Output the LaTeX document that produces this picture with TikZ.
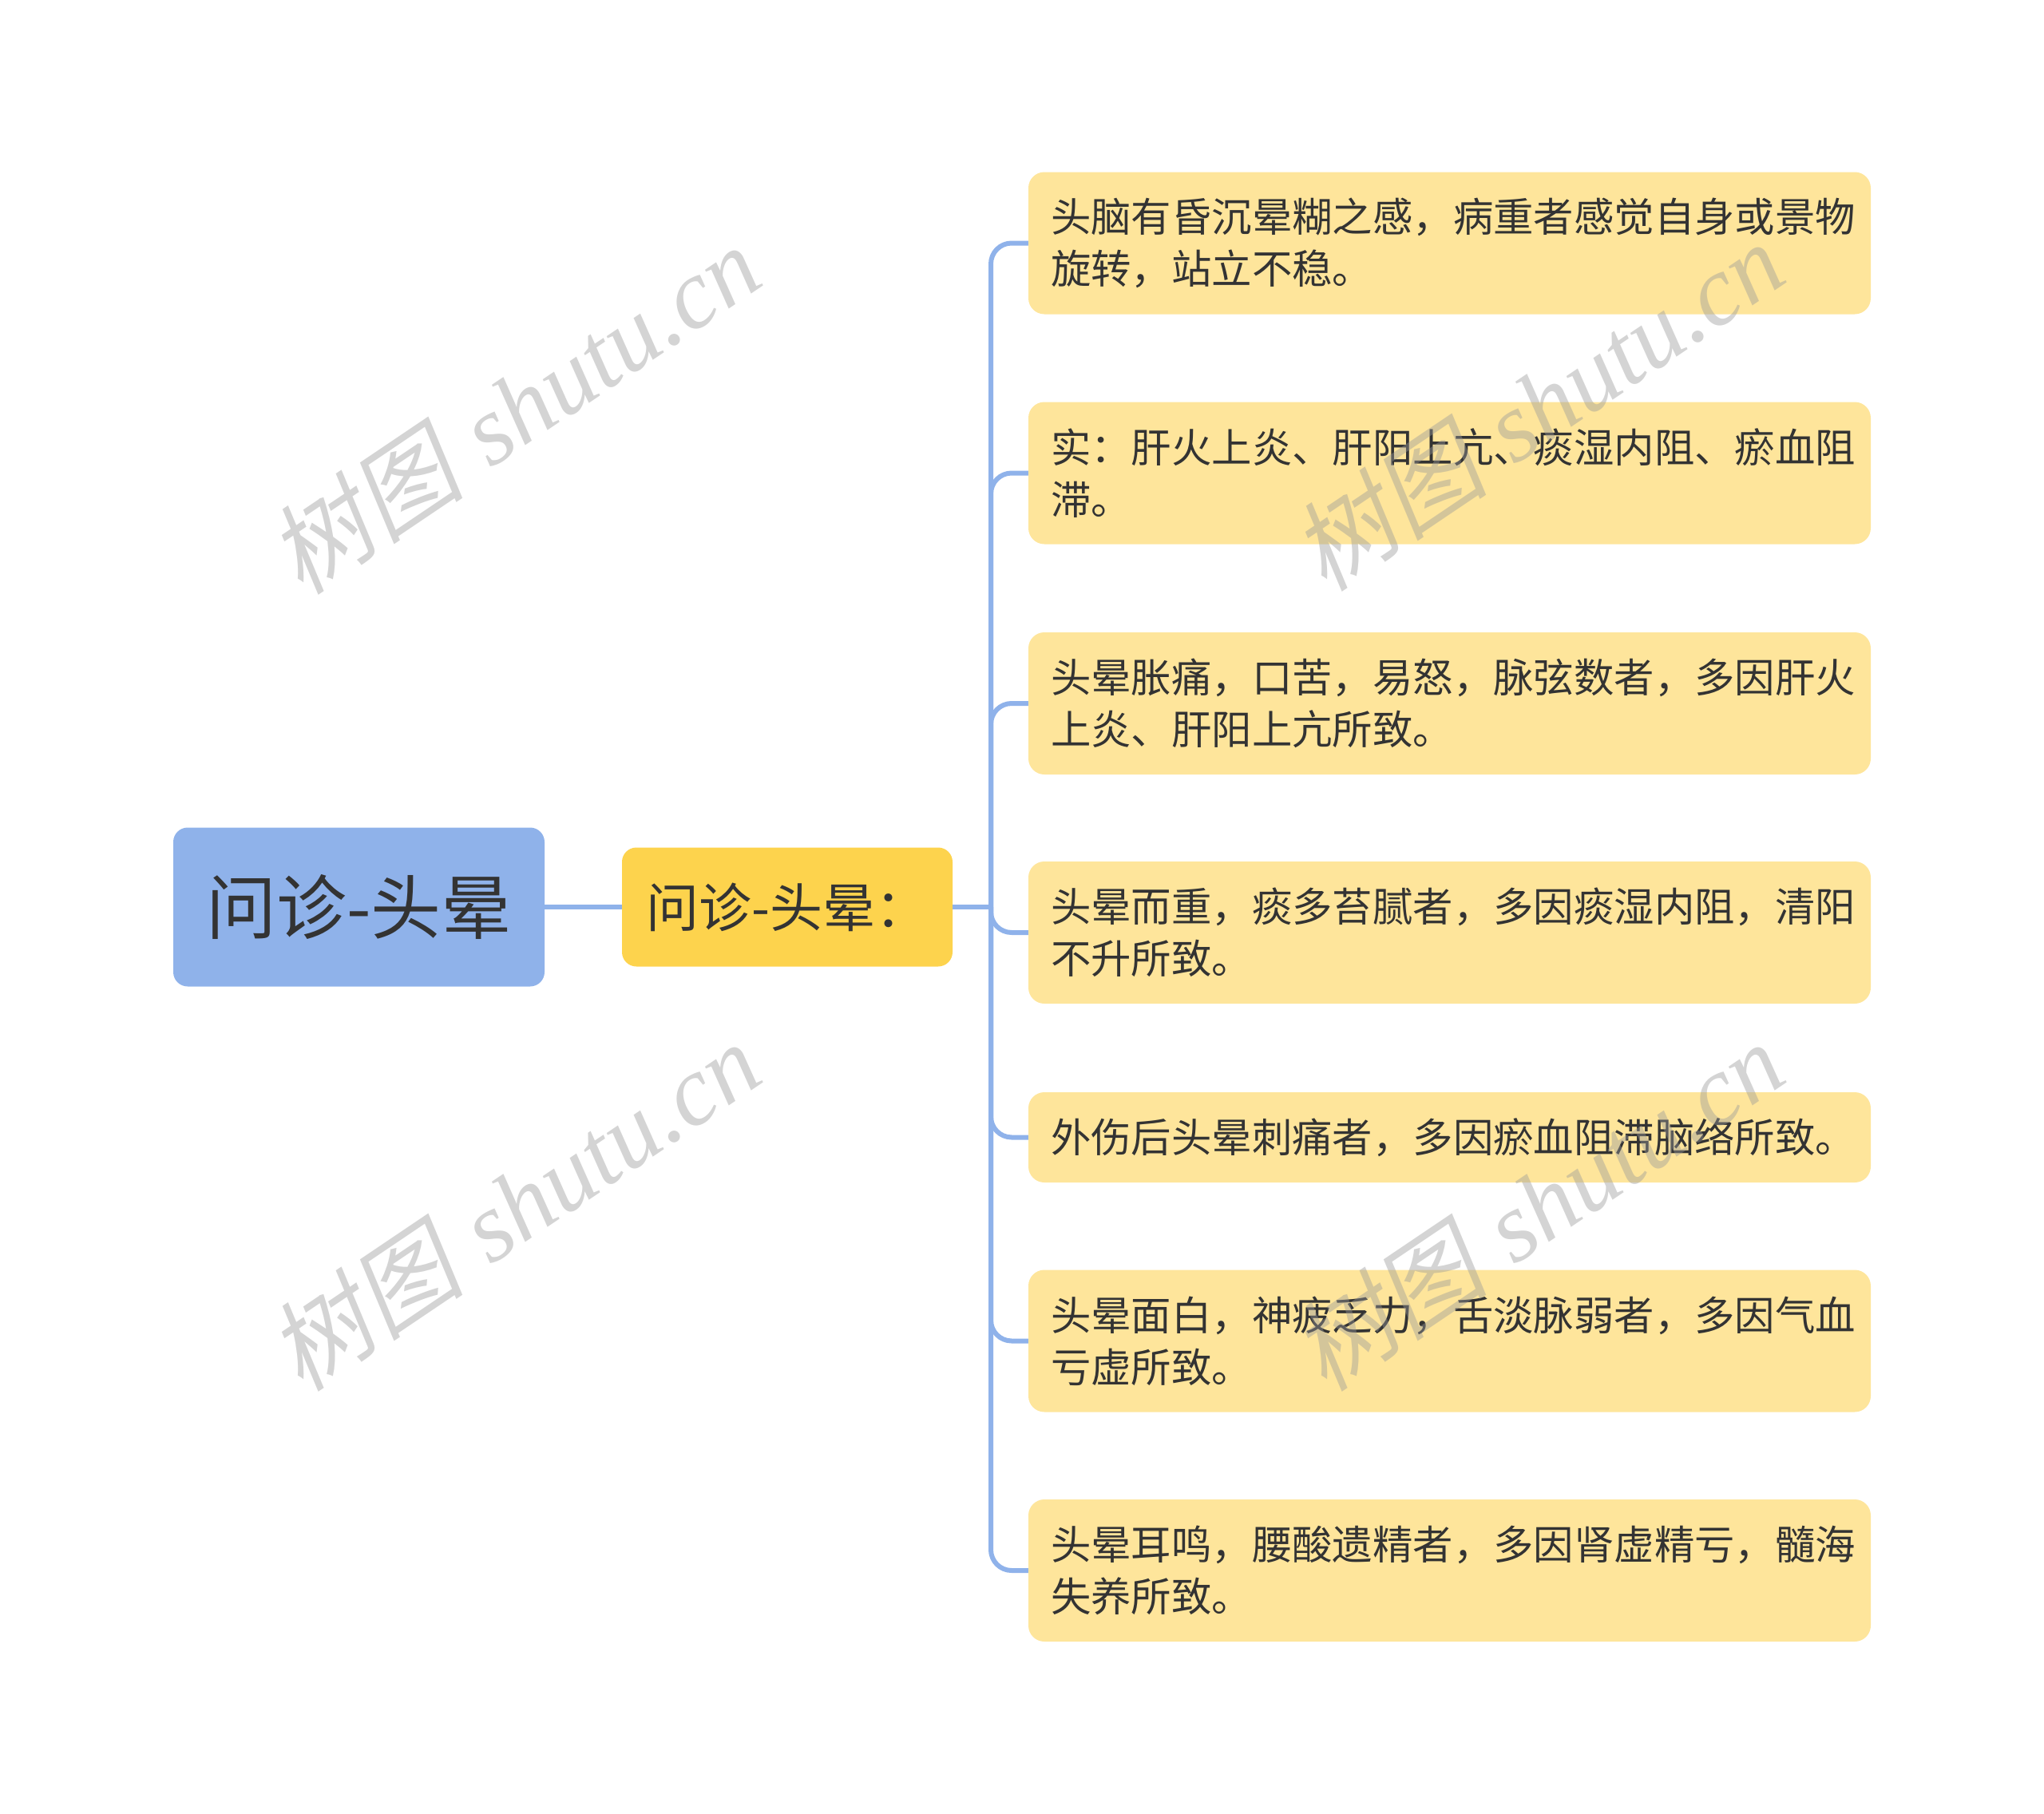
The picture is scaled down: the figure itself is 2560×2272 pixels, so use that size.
\documentclass[tikz,border=0pt]{standalone}
\usepackage{fontspec}
\newfontfamily\cjk{Noto Sans CJK SC}
\newfontfamily\wmcjk[FakeSlant=0.2]{Noto Sans CJK SC}
\newfontfamily\wmlat{Liberation Serif}
\definecolor{rootblue}{HTML}{8FB2EA}
\definecolor{midyellow}{HTML}{FDD34D}
\definecolor{leafyellow}{HTML}{FEE59B}
\definecolor{txt}{HTML}{333333}
\definecolor{wmgray}{HTML}{999999}
\hfuzz=30pt
\tikzset{
  rootbox/.style={fill=rootblue, rounded corners=18pt, minimum width=465pt, minimum height=199pt, inner sep=0pt, text=txt, font=\cjk\fontsize{88}{100}\selectfont},
  midbox/.style={fill=midyellow, rounded corners=18pt, minimum width=414pt, minimum height=149pt, inner sep=0pt, text=txt, font=\cjk\fontsize{66}{80}\selectfont},
  leafbox/.style={fill=leafyellow, rounded corners=20pt, minimum width=1055pt, minimum height=178pt, text width=999pt, align=left, inner xsep=0pt, inner ysep=0pt, text=txt, font=\cjk\fontsize{50.4}{65}\selectfont},
  conn/.style={draw=rootblue, line width=6pt},
  wm/.style={text=wmgray, opacity=0.42, font=\fontsize{124}{130}\selectfont, rotate=34}
}
\begin{document}
\begin{tikzpicture}[x=1pt,y=-1pt]
\useasboundingbox (0,0) rectangle (2560,2272);
\node[rootbox] (root) at (449.5,1136) {问诊-头晕};
\node[midbox] (mid) at (986,1136) {问诊-头晕：};
\coordinate (hub) at (1241,1136);

\node[leafbox] (l1) at (1815.5,304.5) {头脑有昏沉晕糊之感，病重者感觉自身或景物\\旋转，站立不稳。};
\node[leafbox] (l2) at (1815.5,592.5) {实：肝火上炎、肝阳上亢、痰湿内阻、瘀血阻\\滞。};
\node[leafbox] (l3) at (1815.5,881) {头晕胀痛，口苦，易怒，脉弦数者，多因肝火\\上炎、肝阳上亢所致。};
\node[leafbox] (l4) at (1815.5,1168) {头晕而重，痰多苔腻者，多因痰湿内阻，清阳\\不升所致。};
\node[leafbox, minimum height=113pt] (l5) at (1815.5,1424.5) {外伤后头晕刺痛者，多因瘀血阻滞脑络所致。};
\node[leafbox] (l6) at (1815.5,1679.5) {头晕面白，神疲乏力，舌淡脉弱者，多因气血\\亏虚所致。};
\node[leafbox] (l7) at (1815.5,1967) {头晕耳鸣，腰酸遗精者，多因肾虚精亏，髓海\\失养所致。};

\draw[conn] (root.east) -- (mid.west);
\draw[conn] (mid.east) -- (hub);
\foreach \n in {l1,l2,l3,l4,l5,l6,l7}{
  \draw[conn, rounded corners=26pt] (hub) |- (\n.west);
}

\node[wm] (wm1) at (643,512) {{\wmcjk 树图} {\wmlat\itshape shutu.cn}};
\node[wm] (wm2) at (643,1510) {{\wmcjk 树图} {\wmlat\itshape shutu.cn}};
\node[wm] (wm3) at (1925,508) {{\wmcjk 树图} {\wmlat\itshape shutu.cn}};
\node[wm] (wm4) at (1925,1510) {{\wmcjk 树图} {\wmlat\itshape shutu.cn}};
\end{tikzpicture}
\end{document}
